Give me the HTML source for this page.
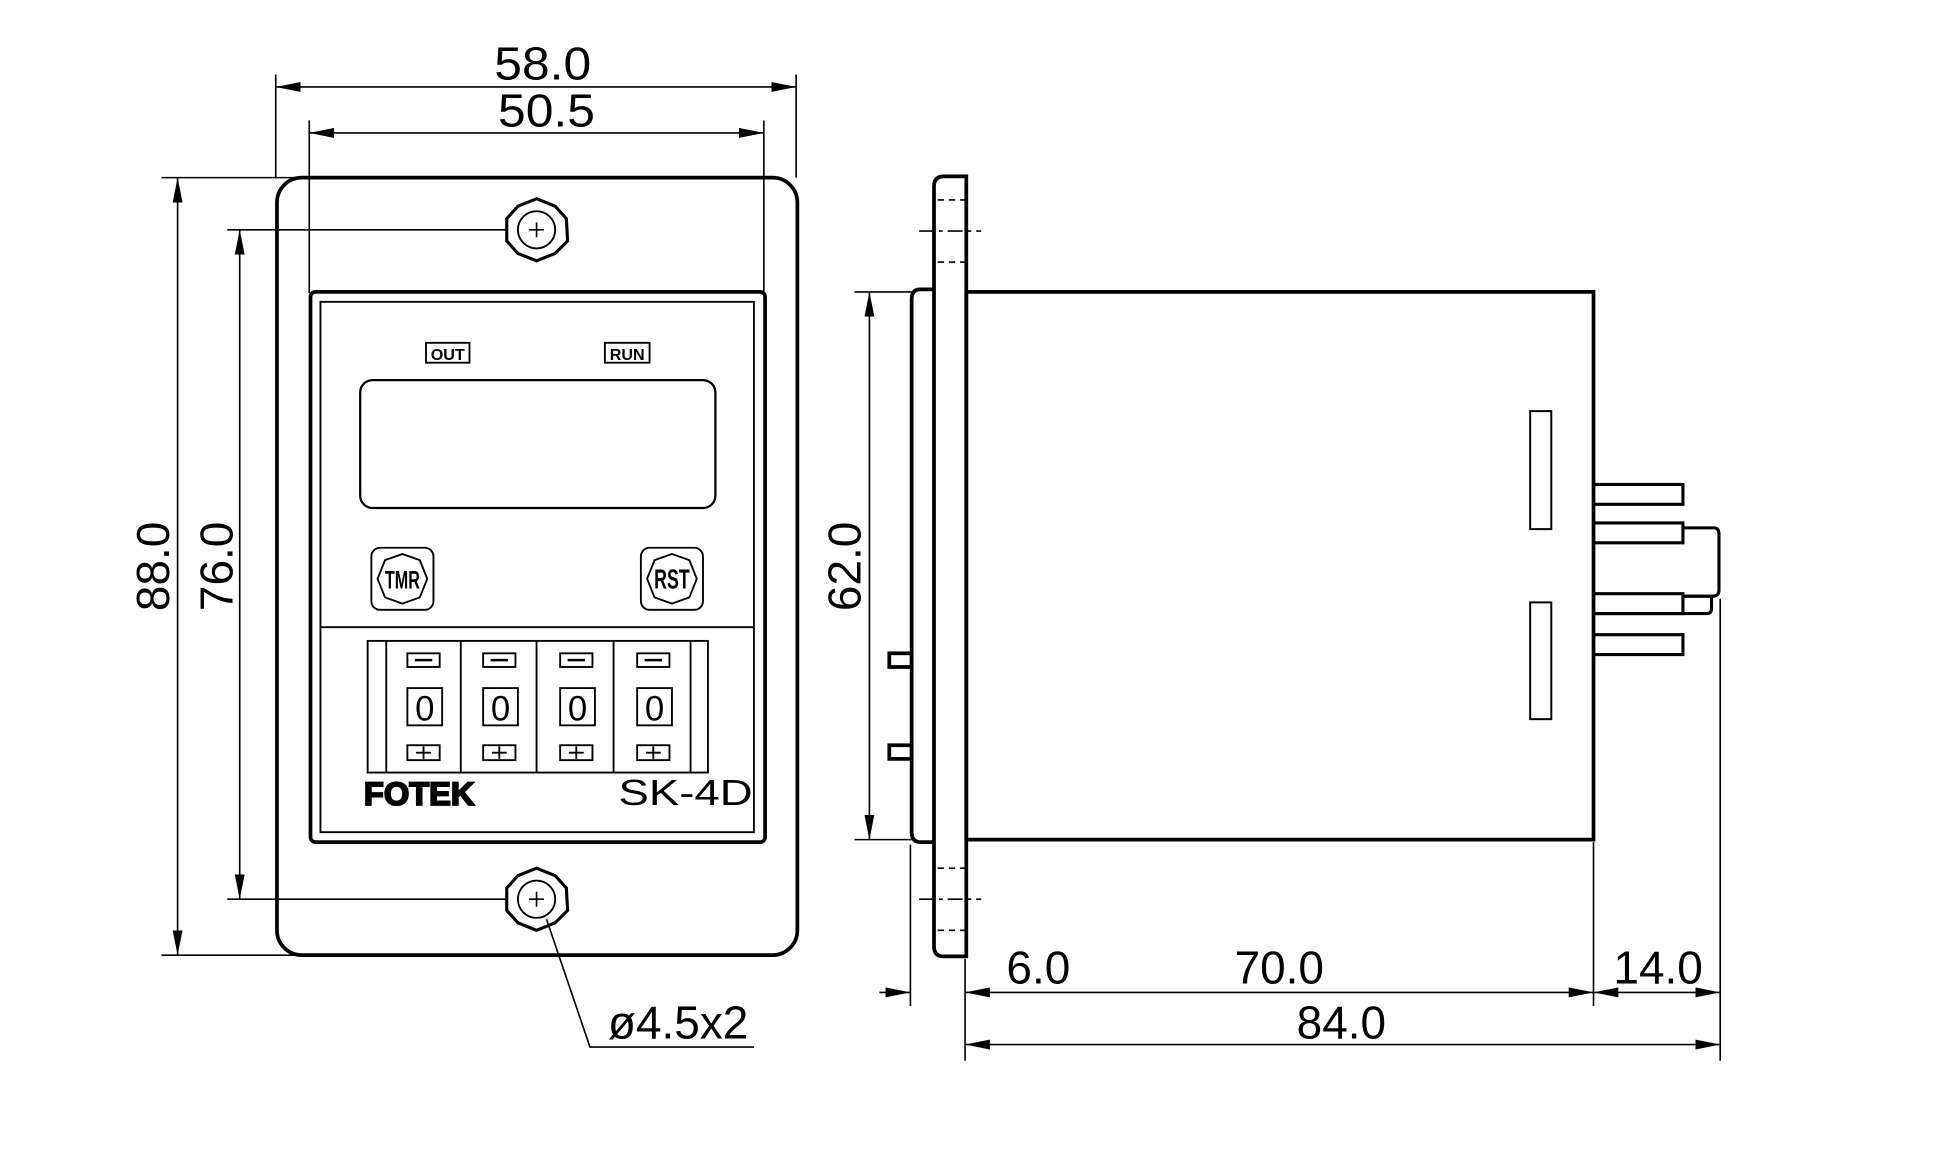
<!DOCTYPE html>
<html><head><meta charset="utf-8"><style>
html,body{margin:0;padding:0;background:#fff;}
svg{display:block;}
text{font-family:"Liberation Sans",sans-serif;fill:#000;}
</style></head><body>
<svg width="1947" height="1173" viewBox="0 0 1567.6 944.4" xmlns="http://www.w3.org/2000/svg">
<defs>
<marker id="a" viewBox="0 0 20 8" refX="20" refY="4" markerWidth="20" markerHeight="8" orient="auto-start-reverse" markerUnits="userSpaceOnUse"><path d="M0,0 L20,4 L0,8 Z" fill="#000"/></marker>
</defs>
<g fill="none" stroke="#000">
<rect x="223" y="143" width="419" height="626" rx="20" stroke-width="3"/>
<line x1="222" y1="60" x2="222" y2="143" stroke-width="1.3"/>
<line x1="641" y1="60" x2="641" y2="143" stroke-width="1.3"/>
<line x1="222" y1="70" x2="641" y2="70" stroke-width="1.3" marker-start="url(#a)" marker-end="url(#a)"/>
<line x1="249" y1="97" x2="249" y2="236" stroke-width="1.3"/>
<line x1="615" y1="97" x2="615" y2="236" stroke-width="1.3"/>
<line x1="249" y1="107" x2="615" y2="107" stroke-width="1.3" marker-start="url(#a)" marker-end="url(#a)"/>
<line x1="130" y1="143" x2="240" y2="143" stroke-width="1.3"/>
<line x1="130" y1="769" x2="240" y2="769" stroke-width="1.3"/>
<line x1="143" y1="143" x2="143" y2="769" stroke-width="1.3" marker-start="url(#a)" marker-end="url(#a)"/>
<line x1="183" y1="185" x2="408" y2="185" stroke-width="1.3"/>
<line x1="183" y1="724" x2="408" y2="724" stroke-width="1.3"/>
<line x1="193" y1="185" x2="193" y2="724" stroke-width="1.3" marker-start="url(#a)" marker-end="url(#a)"/>
<rect x="250" y="235" width="366" height="443" rx="4" stroke-width="3"/>
<rect x="258" y="243" width="349" height="427" stroke-width="1.5"/>
<rect x="343" y="276" width="35" height="16" stroke-width="1.5"/>
<rect x="487" y="276" width="36" height="16" stroke-width="1.5"/>
<rect x="290" y="306" width="286" height="103" rx="10" stroke-width="1.8"/>
<rect x="299" y="441" width="50" height="50" rx="7" stroke-width="1.5"/>
<polygon points="324,446 338,451 344,466 338,481 324,486 310,481 304,466 310,451" stroke-width="1.5"/>
<rect x="516" y="441" width="50" height="50" rx="7" stroke-width="1.5"/>
<polygon points="541,446 555,451 561,466 555,481 541,486 527,481 521,466 527,451" stroke-width="1.5"/>
<line x1="258" y1="505" x2="607" y2="505" stroke-width="1.5"/>
<rect x="296" y="516" width="274" height="106" stroke-width="1.5"/>
<line x1="311" y1="516" x2="311" y2="622" stroke-width="1.5"/>
<line x1="371" y1="516" x2="371" y2="622" stroke-width="1.5"/>
<line x1="432" y1="516" x2="432" y2="622" stroke-width="1.5"/>
<line x1="494" y1="516" x2="494" y2="622" stroke-width="1.5"/>
<line x1="556" y1="516" x2="556" y2="622" stroke-width="1.5"/>
<g stroke-width="1.5">
<rect x="328" y="526" width="26" height="11"/><line x1="334" y1="531.5" x2="348" y2="531.5" stroke-width="2"/>
<rect x="389" y="526" width="26" height="11"/><line x1="395" y1="531.5" x2="409" y2="531.5" stroke-width="2"/>
<rect x="451" y="526" width="26" height="11"/><line x1="457" y1="531.5" x2="471" y2="531.5" stroke-width="2"/>
<rect x="513" y="526" width="26" height="11"/><line x1="519" y1="531.5" x2="533" y2="531.5" stroke-width="2"/>
<rect x="328" y="554" width="28" height="30"/>
<rect x="389" y="554" width="28" height="30"/>
<rect x="451" y="554" width="28" height="30"/>
<rect x="513" y="554" width="28" height="30"/>
<rect x="328" y="600" width="26" height="12"/><path d="M335,606 H347 M341,601 V611"/>
<rect x="389" y="600" width="26" height="12"/><path d="M396,606 H408 M402,601 V611"/>
<rect x="451" y="600" width="26" height="12"/><path d="M458,606 H470 M464,601 V611"/>
<rect x="513" y="600" width="26" height="12"/><path d="M520,606 H532 M526,601 V611"/>
</g>
<polygon points="432,160 447,166 456,176 457,194 447,204 432,210 417,204 408,194 408,176 417,166" stroke-width="2.5"/>
<circle cx="432" cy="185" r="15" stroke-width="1.5"/>
<path d="M426,185 H438 M432,179 V191" stroke-width="1.3"/>
<polygon points="432,699 447,705 456,715 457,733 447,743 432,749 417,743 408,733 408,715 417,705" stroke-width="2.5"/>
<circle cx="432" cy="724" r="15" stroke-width="1.5"/>
<path d="M426,724 H438 M432,718 V730" stroke-width="1.3"/>
<polyline points="440,740 475,843 607,843" stroke-width="1.3"/>

<path d="M752,150 Q752,142 760,142 H778 V770 H760 Q752,770 752,762 Z" stroke-width="3"/>
<path d="M752,233 H741 Q734,233 734,241 V670 Q734,678 741,678 H752" stroke-width="3"/>
<rect x="778" y="235" width="505" height="441" stroke-width="3"/>
<g stroke-width="1.3">
<line x1="755" y1="161" x2="777" y2="161" stroke-dasharray="5,4"/>
<line x1="755" y1="211" x2="777" y2="211" stroke-dasharray="5,4"/>
<line x1="740" y1="186" x2="790" y2="186" stroke-dasharray="12,4,3,4"/>
<line x1="755" y1="699" x2="777" y2="699" stroke-dasharray="5,4"/>
<line x1="755" y1="749" x2="777" y2="749" stroke-dasharray="5,4"/>
<line x1="740" y1="724" x2="790" y2="724" stroke-dasharray="12,4,3,4"/>
</g>
<rect x="716" y="526" width="18" height="11" stroke-width="3"/>
<rect x="716" y="600" width="18" height="11" stroke-width="3"/>
<rect x="1232" y="331" width="17" height="95" stroke-width="1.6"/>
<rect x="1232" y="485" width="17" height="94" stroke-width="1.6"/>
<g stroke-width="2.5">
<path d="M1283,390 H1355 V406 H1283"/>
<path d="M1283,421 H1355 V437 H1283"/>
<path d="M1283,478 H1355 V494 H1283"/>
<path d="M1283,511 H1355 V527 H1283"/>
<path d="M1355,425 H1380 Q1384,425 1384,430 V475 Q1384,480 1379,480 H1355"/>
<path d="M1355,480 H1378 V490 Q1378,494 1374,494 H1283"/>
</g>
<line x1="688" y1="235" x2="734" y2="235" stroke-width="1.3"/>
<line x1="688" y1="676" x2="734" y2="676" stroke-width="1.3"/>
<line x1="700" y1="235" x2="700" y2="676" stroke-width="1.3" marker-start="url(#a)" marker-end="url(#a)"/>
<line x1="733" y1="680" x2="733" y2="810" stroke-width="1.3"/>
<line x1="777" y1="772" x2="777" y2="854" stroke-width="1.3"/>
<line x1="1283" y1="678" x2="1283" y2="810" stroke-width="1.3"/>
<line x1="1385" y1="482" x2="1385" y2="854" stroke-width="1.3"/>
<line x1="708" y1="799" x2="733" y2="799" stroke-width="1.3" marker-end="url(#a)"/>
<line x1="777" y1="799" x2="1283" y2="799" stroke-width="1.3" marker-start="url(#a)" marker-end="url(#a)"/>
<line x1="1283" y1="799" x2="1385" y2="799" stroke-width="1.3" marker-start="url(#a)" marker-end="url(#a)"/>
<line x1="777" y1="841" x2="1385" y2="841" stroke-width="1.3" marker-start="url(#a)" marker-end="url(#a)"/>
</g>
<g font-size="37">
<text x="437" y="64" text-anchor="middle" textLength="78" lengthAdjust="spacingAndGlyphs">58.0</text>
<text x="440" y="102" text-anchor="middle" textLength="78" lengthAdjust="spacingAndGlyphs">50.5</text>
<text x="836" y="792" text-anchor="middle">6.0</text>
<text x="1030" y="792" text-anchor="middle">70.0</text>
<text x="1335" y="792" text-anchor="middle">14.0</text>
<text x="1080" y="836" text-anchor="middle">84.0</text>
<text x="546" y="836" text-anchor="middle">ø4.5x2</text>
<text transform="translate(136,456) rotate(-90)" text-anchor="middle">88.0</text>
<text transform="translate(187,456) rotate(-90)" text-anchor="middle">76.0</text>
<text transform="translate(693,456) rotate(-90)" text-anchor="middle">62.0</text>
</g>
<text x="360.5" y="290" font-size="13" font-weight="bold" text-anchor="middle">OUT</text>
<text x="505" y="290" font-size="13" font-weight="bold" text-anchor="middle">RUN</text>
<text x="324" y="474" font-size="20" font-weight="bold" text-anchor="middle" transform="translate(324,466) scale(0.65,1) translate(-324,-466)">TMR</text>
<text x="541" y="474" font-size="22" font-weight="bold" text-anchor="middle" transform="translate(541,466) scale(0.65,1) translate(-541,-466)">RST</text>
<g font-size="28" text-anchor="middle">
<text x="342" y="580">0</text><text x="403" y="580">0</text><text x="465" y="580">0</text><text x="527" y="580">0</text>
</g>
<text x="293" y="648" font-size="26" font-weight="bold" stroke="#000" stroke-width="1.5" textLength="89" lengthAdjust="spacingAndGlyphs">FOTEK</text>
<text x="498" y="648" font-size="29" textLength="108" lengthAdjust="spacingAndGlyphs">SK-4D</text>
</svg>
</body></html>
